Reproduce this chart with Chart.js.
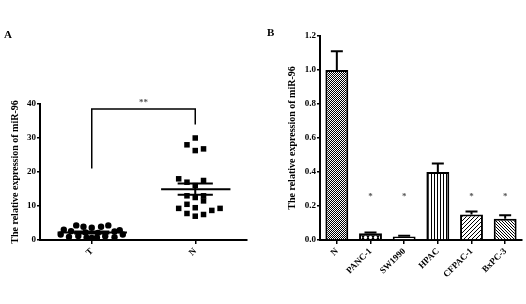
<!DOCTYPE html>
<html>
<head>
<meta charset="utf-8">
<script src="https://cdn.jsdelivr.net/npm/chart.js@4.4.1/dist/chart.umd.min.js"></script>
<style>
  html, body { margin: 0; padding: 0; background: #fff; }
  #wrap { position: relative; width: 526px; height: 304px; }
  canvas { position: absolute; top: 0; }
  #chartA { left: 0; }
  #chartB { left: 263px; }
  .tag { position: absolute; font: bold 11px "Liberation Serif", serif; color: #000; }
</style>
</head>
<body>
<div id="wrap">
  <canvas id="chartA" width="263" height="304"></canvas>
  <canvas id="chartB" width="263" height="304"></canvas>
  <div class="tag" style="left:4px;top:28px;">A</div>
  <div class="tag" style="left:267px;top:26px;">B</div>
</div>
<script>
// ---- panel A data (dot plot) ----
const groupLabels = ['T', 'N'];
const tValues = [4.3, 4.3, 3.9, 3.9, 3.6, 3.0, 2.9, 2.6, 2.5, 2.2, 2.1, 1.6, 1.6, 1.2, 1.1, 0.9, 0.8, 0.7, 0.7, 0.6];
const tJitter = [-0.15, 0.16, -0.08, 0.09, 0.0, -0.27, 0.27, -0.2, 0.22, -0.06, 0.06, -0.3, 0.3, -0.13, 0.13, -0.22, 0.22, -0.05, 0.05, 0.0];
const nValues = [30, 28, 26.3, 26.8, 18, 17, 17.5, 16, 13, 12.5, 13, 11.5, 10.5, 9.3, 9.5, 7.8, 7, 7.5, 8.7, 9.3];
const nJitter = [0, -0.08, 0, 0.08, -0.16, -0.08, 0.08, 0, -0.08, 0, 0.08, 0.08, -0.08, -0.16, 0, -0.08, 0, 0.08, 0.16, 0.24];
const yTicksA = [0, 10, 20, 30, 40];
const bracketA = [21, 38.5, 38.5, 34];   // left leg, top, top, right leg
const sigA = '**';

// ---- panel B data (bars) ----
const cellLines = ['N', 'PANC-1', 'SW1990', 'HPAC', 'CFPAC-1', 'BxPC-3'];
const barValues = [1.0, 0.04, 0.02, 0.40, 0.15, 0.125];
const barErrors = [0.11, 0.004, 0.005, 0.05, 0.018, 0.02];
const sigB = ['', '*', '*', '', '*', '*'];
const sigLevelB = 0.265;
const yTicksB = [0, 0.2, 0.4, 0.6, 0.8, 1.0, 1.2];

const yTitle = 'The relative expression of miR-96';
const serif = '"Liberation Serif", "Times New Roman", serif';
const tickFont = { family: serif, size: 9, weight: 'bold' };
const titleFont = { family: serif, size: 10, weight: 'bold' };

function mean(a) { return a.reduce((s, v) => s + v, 0) / a.length; }
function sem(a) {
  const m = mean(a);
  return Math.sqrt(a.reduce((s, v) => s + (v - m) * (v - m), 0) / (a.length - 1) / a.length);
}

// ===============================
// PANEL A
// ===============================
const meanPlugin = {
  id: 'meanLines',
  afterDatasetsDraw(chart) {
    const { ctx, scales: { x, y } } = chart;
    ctx.save();
    ctx.strokeStyle = '#000';
    ctx.lineWidth = 2;
    [tValues, nValues].forEach((vals, g) => {
      const m = mean(vals), e = sem(vals);
      const ym = y.getPixelForValue(m);
      const yu = y.getPixelForValue(m + e);
      const yl = y.getPixelForValue(m - e);
      ctx.beginPath();
      ctx.moveTo(x.getPixelForValue(g - 0.33), ym);
      ctx.lineTo(x.getPixelForValue(g + 0.34), ym);
      ctx.moveTo(x.getPixelForValue(g - 0.17), yu);
      ctx.lineTo(x.getPixelForValue(g + 0.17), yu);
      ctx.moveTo(x.getPixelForValue(g - 0.17), yl);
      ctx.lineTo(x.getPixelForValue(g + 0.17), yl);
      ctx.moveTo(x.getPixelForValue(g), yu);
      ctx.lineTo(x.getPixelForValue(g), yl);
      ctx.stroke();
    });
    // significance stars over the bracket
    ctx.fillStyle = '#555';
    ctx.font = 'bold 9px ' + serif;
    ctx.textAlign = 'center';
    ctx.textBaseline = 'middle';
    ctx.fillText(sigA, x.getPixelForValue(0.5), y.getPixelForValue(bracketA[1]) - 6);
    ctx.restore();
  }
};

new Chart(document.getElementById('chartA').getContext('2d'), {
  type: 'scatter',
  data: {
    datasets: [
      {
        data: tValues.map((v, i) => ({ x: 0 + tJitter[i], y: v })),
        pointStyle: 'circle', pointRadius: 3.2,
        backgroundColor: '#000', borderColor: '#000', borderWidth: 0
      },
      {
        data: nValues.map((v, i) => ({ x: 1 + nJitter[i], y: v })),
        pointStyle: 'rect', pointRadius: 3.9,
        backgroundColor: '#000', borderColor: '#000', borderWidth: 0
      },
      {
        data: [{ x: 0, y: bracketA[0] }, { x: 0, y: bracketA[1] }, { x: 1, y: bracketA[2] }, { x: 1, y: bracketA[3] }],
        showLine: true, pointRadius: 0, borderColor: '#000', borderWidth: 1.5, clip: false
      }
    ]
  },
  options: {
    responsive: false,
    animation: false,
    layout: { padding: { top: 104, right: 16, left: 0, bottom: 0 } },
    plugins: { legend: { display: false }, tooltip: { enabled: false } },
    scales: {
      x: {
        type: 'linear', min: -0.5, max: 1.5,
        afterBuildTicks: s => { s.ticks = [{ value: 0 }, { value: 1 }]; },
        afterFit: s => { s.height = 64; },
        ticks: {
          callback: v => groupLabels[v], minRotation: 45, maxRotation: 45,
          color: '#000', font: tickFont, padding: 2
        },
        grid: { drawOnChartArea: false, tickLength: 4, color: '#000', lineWidth: 1.5 },
        border: { color: '#000', width: 2 }
      },
      y: {
        min: 0, max: 40,
        afterBuildTicks: s => { s.ticks = yTicksA.map(v => ({ value: v })); },
        afterFit: s => { s.width = 40; },
        ticks: { color: '#000', font: tickFont, padding: 1 },
        grid: { drawOnChartArea: false, tickLength: 3, color: '#000', lineWidth: 1.5 },
        border: { color: '#000', width: 2 },
        title: { display: true, text: yTitle, color: '#000', font: titleFont, padding: { top: 9, bottom: 0 } }
      }
    }
  },
  plugins: [meanPlugin]
});

// ===============================
// PANEL B
// ===============================
const ctxB = document.getElementById('chartB').getContext('2d');

function makePattern(w, h, draw) {
  const c = document.createElement('canvas');
  c.width = w; c.height = h;
  const g = c.getContext('2d');
  g.fillStyle = '#fff';
  g.fillRect(0, 0, w, h);
  g.fillStyle = '#000';
  draw(g);
  return ctxB.createPattern(c, 'repeat');
}

const fills = [
  makePattern(2, 2, g => { g.fillRect(0, 0, 1, 1); g.fillRect(1, 1, 1, 1); }),
  makePattern(5, 5, g => {
    g.fillRect(0, 0, 5, 5);
    g.fillStyle = '#fff';
    g.beginPath(); g.arc(2.5, 2.5, 1.7, 0, Math.PI * 2); g.fill();
  }),
  makePattern(4, 4, g => {}),
  makePattern(3, 1, g => { g.fillRect(0, 0, 1, 1); }),
  makePattern(4, 4, g => { g.fillRect(3, 0, 1, 1); g.fillRect(2, 1, 1, 1); g.fillRect(1, 2, 1, 1); g.fillRect(0, 3, 1, 1); }),
  makePattern(3, 3, g => { g.fillRect(0, 0, 1, 1); g.fillRect(1, 1, 1, 1); g.fillRect(2, 2, 1, 1); })
];

const errorPlugin = {
  id: 'errorBars',
  afterDatasetsDraw(chart) {
    const { ctx, scales: { y } } = chart;
    const meta = chart.getDatasetMeta(0);
    ctx.save();
    ctx.strokeStyle = '#000';
    ctx.lineWidth = 2;
    meta.data.forEach((bar, i) => {
      const top = y.getPixelForValue(barValues[i] + barErrors[i]);
      ctx.beginPath();
      ctx.moveTo(bar.x, bar.y);
      ctx.lineTo(bar.x, top);
      ctx.moveTo(bar.x - 6, top);
      ctx.lineTo(bar.x + 6, top);
      ctx.stroke();
      if (sigB[i]) {
        ctx.fillStyle = '#555';
        ctx.font = 'bold 9px ' + serif;
        ctx.textAlign = 'center';
        ctx.textBaseline = 'middle';
        ctx.fillText(sigB[i], bar.x, y.getPixelForValue(sigLevelB) + 2);
      }
    });
    ctx.restore();
  }
};

new Chart(ctxB, {
  type: 'bar',
  data: {
    labels: cellLines,
    datasets: [{
      data: barValues,
      backgroundColor: fills,
      borderColor: '#000',
      borderWidth: 2,
      borderSkipped: 'bottom',
      barPercentage: 0.68,
      categoryPercentage: 1.0
    }]
  },
  options: {
    responsive: false,
    animation: false,
    layout: { padding: { top: 36, right: 4, left: 0, bottom: 0 } },
    plugins: { legend: { display: false }, tooltip: { enabled: false } },
    scales: {
      x: {
        afterFit: s => { s.height = 64; },
        ticks: { minRotation: 45, maxRotation: 45, color: '#000', font: tickFont, padding: 2 },
        grid: { drawOnChartArea: false, offset: false, tickLength: 4, color: '#000', lineWidth: 1.5 },
        border: { color: '#000', width: 2 }
      },
      y: {
        min: 0, max: 1.2,
        afterBuildTicks: s => { s.ticks = yTicksB.map(v => ({ value: v })); },
        afterFit: s => { s.width = 57; },
        ticks: { color: '#000', font: tickFont, padding: 1, callback: v => v.toFixed(1) },
        grid: { drawOnChartArea: false, tickLength: 3, color: '#000', lineWidth: 1.5 },
        border: { color: '#000', width: 2 },
        title: { display: true, text: yTitle, color: '#000', font: titleFont, padding: { top: 23, bottom: 0 } }
      }
    }
  },
  plugins: [errorPlugin]
});
</script>
</body>
</html>
